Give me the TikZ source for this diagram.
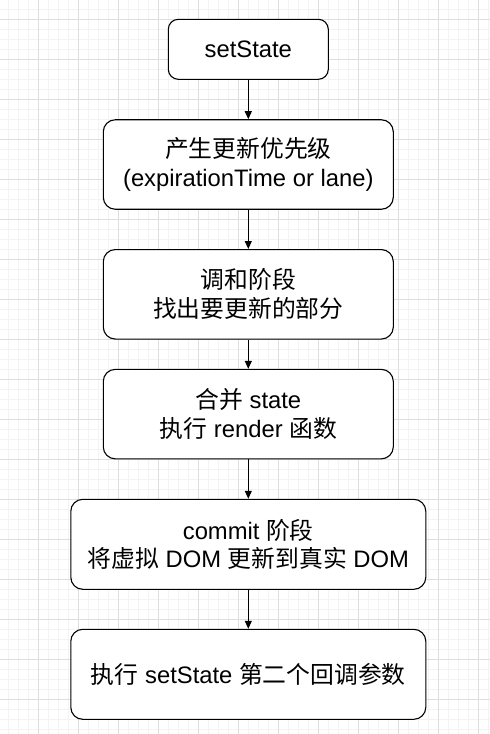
\documentclass[tikz,border=0pt]{standalone}
\usepackage{fontspec}
\setmainfont{Liberation Sans}
\newfontfamily\cjk{Noto Sans CJK SC}
\usetikzlibrary{arrows.meta}
\definecolor{gridmajor}{RGB}{222,222,222}
\definecolor{gridminor}{RGB}{243,243,243}
\begin{document}
\begin{tikzpicture}[x=1pt,y=-1pt,
  boxstyle/.style={draw=black,line width=1.1pt,fill=white,rounded corners=12pt,
    align=center,font=\fontsize{23.8}{28.8}\selectfont,text=black,inner sep=0pt},
  conn/.style={draw=black,line width=1.1pt,-{Triangle[length=8pt,width=7pt]}}]
\useasboundingbox (0,0) rectangle (490,734);
\fill[white] (0,0) rectangle (490,734);
% grid
\foreach \i in {0,...,48} {\draw[gridminor,line width=0.8pt] (8.3+10*\i,0) -- (8.3+10*\i,734);}
\foreach \i in {0,...,72} {\draw[gridminor,line width=0.8pt] (0,9.3+10*\i) -- (490,9.3+10*\i);}
\foreach \i in {0,...,12} {\draw[gridmajor,line width=0.8pt] (38.3+40*\i,0) -- (38.3+40*\i,734);}
\foreach \i in {0,...,18} {\draw[gridmajor,line width=0.8pt] (0,19.3+40*\i) -- (490,19.3+40*\i);}
% boxes
\node[boxstyle,rounded corners=10pt,minimum width=160pt,minimum height=60pt] (b1) at (248.3,49.3) {setState};
\node[boxstyle,minimum width=290pt,minimum height=89.5pt] (b2) at (248.3,164.5) {{\cjk 产生更新优先级}\\(expirationTime or lane)};
\node[boxstyle,minimum width=290pt,minimum height=89.5pt] (b3) at (248.3,294.3) {{\cjk 调和阶段}\\{\cjk 找出要更新的部分}};
\node[boxstyle,minimum width=290pt,minimum height=89.5pt] (b4) at (248.3,414.1) {{\cjk 合并} state\\{\cjk 执行} render {\cjk 函数}};
\node[boxstyle,minimum width=355pt,minimum height=90pt] (b5) at (248.3,544.3) {commit {\cjk 阶段}\\{\cjk 将虚拟} DOM {\cjk 更新到真实} DOM};
\node[boxstyle,minimum width=355pt,minimum height=90pt] (b6) at (248.3,674.3) {{\cjk 执行} setState {\cjk 第二个回调参数}};
% connectors
\draw[conn] (b1) -- (b2);
\draw[conn] (b2) -- (b3);
\draw[conn] (b3) -- (b4);
\draw[conn] (b4) -- (b5);
\draw[conn] (b5) -- (b6);
\end{tikzpicture}
\end{document}
